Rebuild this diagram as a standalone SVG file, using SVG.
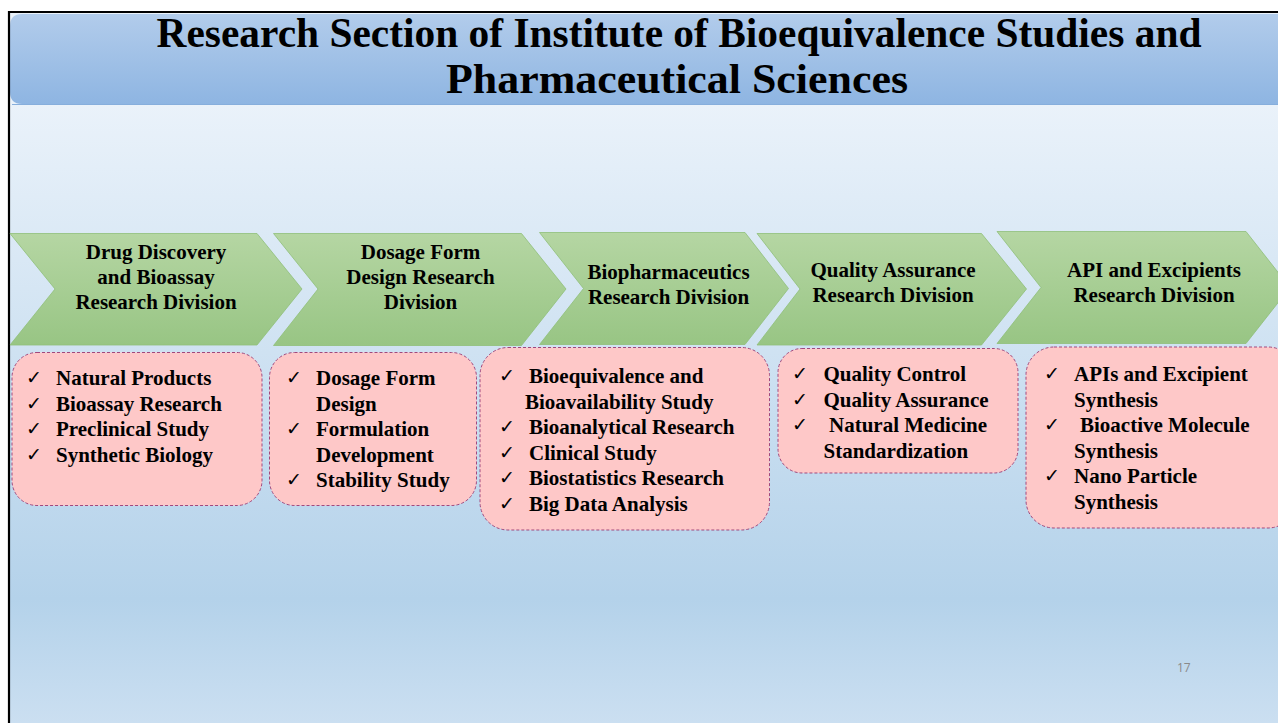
<svg xmlns="http://www.w3.org/2000/svg" width="1278" height="723" viewBox="0 0 1278 723">
<defs>
<linearGradient id="bg" x1="0" y1="104" x2="0" y2="723" gradientUnits="userSpaceOnUse">
<stop offset="0" stop-color="#eaf2fa"/>
<stop offset="0.8" stop-color="#b4d2ea"/>
<stop offset="1" stop-color="#cbdff1"/>
</linearGradient>
<linearGradient id="tb" x1="0" y1="0" x2="0" y2="1">
<stop offset="0" stop-color="#b2cceb"/>
<stop offset="1" stop-color="#8eb5e2"/>
</linearGradient>
<linearGradient id="gr" x1="0" y1="0" x2="0" y2="1">
<stop offset="0" stop-color="#b5d6a3"/>
<stop offset="1" stop-color="#98c584"/>
</linearGradient>
<style>
.chev{fill:url(#gr);stroke:#8fbf78;stroke-width:0.8}
.ct{font-family:"Liberation Serif","Times New Roman",serif;font-weight:bold;font-size:21px;fill:#000;text-anchor:middle}
.box{fill:#fec8c8;stroke:#a2487c;stroke-width:1;stroke-dasharray:3 2}
.bt{font-family:"Liberation Serif","Times New Roman",serif;font-weight:bold;font-size:21px;fill:#000}
.ck{font-family:"DejaVu Sans",sans-serif;font-size:19px;fill:#000}
.title{font-family:"Liberation Serif","Times New Roman",serif;font-weight:bold;font-size:43px;fill:#000;text-anchor:middle}
</style>
</defs>
<rect x="0" y="0" width="1278" height="723" fill="#ffffff"/>
<rect x="9" y="12" width="1269" height="711" fill="url(#bg)"/>
<g id="title">
<path d="M22,14 H1278 V104 H22 Q10,104 10,92 V26 Q10,14 22,14 Z" fill="url(#tb)"/>
<line x1="12" y1="104.5" x2="1278" y2="104.5" stroke="#86aedc" stroke-width="1"/>
<text class="title" x="679" y="47" textLength="1045" lengthAdjust="spacingAndGlyphs">Research Section of Institute of Bioequivalence Studies and</text>
<text class="title" x="677" y="93" textLength="462" lengthAdjust="spacingAndGlyphs">Pharmaceutical Sciences</text>
</g>
<path d="M9,723 V12 H1278" fill="none" stroke="#000" stroke-width="2.2"/>
<g id="connectors"/>
<g id="chevron1">
<polygon class="chev" points="10,233.5 257,233.5 302,289 257,345 10,345 55,289"/>
<text class="ct" x="156" y="258.5">Drug Discovery</text>
<text class="ct" x="156" y="283.5">and Bioassay</text>
<text class="ct" x="156" y="308.5">Research Division</text>
</g>
<g id="chevron2">
<polygon class="chev" points="273.5,233.5 521.5,233.5 566,289 521.5,345.5 273.5,345.5 318,289"/>
<text class="ct" x="420.5" y="258.5">Dosage Form</text>
<text class="ct" x="420.5" y="283.5">Design Research</text>
<text class="ct" x="420.5" y="308.5">Division</text>
</g>
<g id="chevron3">
<polygon class="chev" points="539.5,232.5 745,232.5 788.5,288.5 745,344.5 539.5,344.5 583.5,288.5"/>
<text class="ct" x="668.5" y="278.5">Biopharmaceutics</text>
<text class="ct" x="668.5" y="303.5">Research Division</text>
</g>
<g id="chevron4">
<polygon class="chev" points="757,233.5 981.5,233.5 1026.5,289 981.5,345 757,345 800,289"/>
<text class="ct" x="893" y="276.5">Quality Assurance</text>
<text class="ct" x="893" y="301.5">Research Division</text>
</g>
<g id="chevron5">
<polygon class="chev" points="997,231.5 1246,231.5 1290,287.5 1246,343.5 997,343.5 1041,287.5"/>
<text class="ct" x="1154" y="276.5">API and Excipients</text>
<text class="ct" x="1154" y="301.5">Research Division</text>
</g>
<g id="box1">
<rect class="box" x="12" y="352.5" width="250" height="153" rx="25" ry="25"/>
<text class="ck" x="26" y="384">✓</text><text class="bt" x="56" y="385">Natural Products</text>
<text class="ck" x="26" y="409.5">✓</text><text class="bt" x="56" y="410.5">Bioassay Research</text>
<text class="ck" x="26" y="435">✓</text><text class="bt" x="56" y="436">Preclinical Study</text>
<text class="ck" x="26" y="460.5">✓</text><text class="bt" x="56" y="461.5">Synthetic Biology</text>
</g>
<g id="box2">
<rect class="box" x="269.5" y="352.5" width="207" height="153" rx="25" ry="25"/>
<text class="ck" x="286" y="384">✓</text><text class="bt" x="316" y="385">Dosage Form</text>
<text class="bt" x="316" y="410.5">Design</text>
<text class="ck" x="286" y="435">✓</text><text class="bt" x="316" y="436">Formulation</text>
<text class="bt" x="316" y="461.5">Development</text>
<text class="ck" x="286" y="486">✓</text><text class="bt" x="316" y="487">Stability Study</text>
</g>
<g id="box3">
<rect class="box" x="480" y="347.5" width="289.5" height="182.5" rx="28" ry="28"/>
<text class="ck" x="499" y="382">✓</text><text class="bt" x="529" y="383">Bioequivalence and</text>
<text class="bt" x="525" y="408.5">Bioavailability Study</text>
<text class="ck" x="499" y="433">✓</text><text class="bt" x="529" y="434">Bioanalytical Research</text>
<text class="ck" x="499" y="458.5">✓</text><text class="bt" x="529" y="459.5">Clinical Study</text>
<text class="ck" x="499" y="484">✓</text><text class="bt" x="529" y="485">Biostatistics Research</text>
<text class="ck" x="499" y="509.5">✓</text><text class="bt" x="529" y="510.5">Big Data Analysis</text>
</g>
<g id="box4">
<rect class="box" x="778" y="348.5" width="240" height="124.5" rx="24" ry="24"/>
<text class="ck" x="792" y="380">✓</text><text class="bt" x="823.5" y="381">Quality Control</text>
<text class="ck" x="792" y="405.5">✓</text><text class="bt" x="823.5" y="406.5">Quality Assurance</text>
<text class="ck" x="792" y="431">✓</text><text class="bt" x="829" y="432">Natural Medicine</text>
<text class="bt" x="823.5" y="457.5">Standardization</text>
</g>
<g id="box5">
<rect class="box" x="1026" y="347" width="270" height="181" rx="28" ry="28"/>
<text class="ck" x="1044" y="380">✓</text><text class="bt" x="1074" y="381">APIs and Excipient</text>
<text class="bt" x="1074" y="406.5">Synthesis</text>
<text class="ck" x="1044" y="431">✓</text><text class="bt" x="1080" y="432">Bioactive Molecule</text>
<text class="bt" x="1074" y="457.5">Synthesis</text>
<text class="ck" x="1044" y="482">✓</text><text class="bt" x="1074" y="483">Nano Particle</text>
<text class="bt" x="1074" y="508.5">Synthesis</text>
</g>
<text x="1177" y="672" font-family="'Open Sans','Liberation Sans',sans-serif" font-size="12" fill="#8a8a8a">17</text>
</svg>
